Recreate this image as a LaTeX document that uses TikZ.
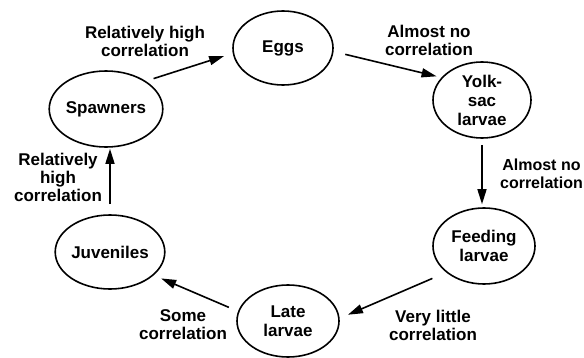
\documentclass[tikz,border=0pt]{standalone}
\usepackage{fontspec}
\setmainfont{Liberation Sans}
\usetikzlibrary{shapes.geometric,arrows.meta}
\begin{document}
\begin{tikzpicture}[x=1pt,y=1pt,
  stage/.style={draw, ellipse, line width=1.6pt, inner sep=0pt, align=center,
    font=\fontsize{17}{19}\selectfont\bfseries},
  lbl/.style={align=center, inner sep=0pt, font=\fontsize{17}{18}\selectfont\bfseries},
  arr/.style={line width=1.6pt, -{Triangle[length=15pt,width=9pt]}}]
\useasboundingbox[fill=white] (0,0) rectangle (584,357);
\node[stage, minimum width=100pt, minimum height=74pt] (eggs) at (283,309) {Eggs};
\node[stage, minimum width=102pt, minimum height=76pt] (spawners) at (106,248) {Spawners};
\node[stage, minimum width=98pt, minimum height=76pt] (yolk) at (482,257) {Yolk-\\sac\\larvae};
\node[stage, minimum width=102pt, minimum height=76pt] (feeding) at (484,111) {Feeding\\larvae};
\node[stage, minimum width=102pt, minimum height=72pt] (late) at (288,36) {Late\\larvae};
\node[stage, minimum width=102pt, minimum height=74pt] (juv) at (110,105) {Juveniles};

\node[lbl] (l1) at (145,316) {Relatively high\\correlation};
\node[lbl] (l2) at (429,317) {Almost no\\correlation};
\node[lbl, anchor=east, font=\fontsize{16}{18}\selectfont\bfseries] (l3) at (583,183) {Almost no\\correlation};
\node[lbl] (l4) at (433,32) {Very little\\correlation};
\node[lbl] (l5) at (183,32) {Some\\correlation};
\node[lbl] (l6) at (58,180) {Relatively\\high\\correlation};

\draw[arr, shorten <=8pt, shorten >=9pt] (spawners.35.2) -- (eggs.186.9);
\draw[arr, shorten <=12pt, shorten >=5pt] (eggs.-4.6) -- (yolk.151.9);
\draw[arr, shorten <=6pt, shorten >=3pt] (yolk.south) -- (yolk.south |- feeding.north);
\draw[arr, shorten <=15pt, shorten >=9pt] (feeding.215) -- (late.3.8);
\draw[arr, shorten <=10pt, shorten >=8pt] (late.169.4) -- (juv.-28.4);
\draw[arr, shorten <=10pt, shorten >=1pt] (juv.north) -- (juv.north |- spawners.south);
\end{tikzpicture}
\end{document}
